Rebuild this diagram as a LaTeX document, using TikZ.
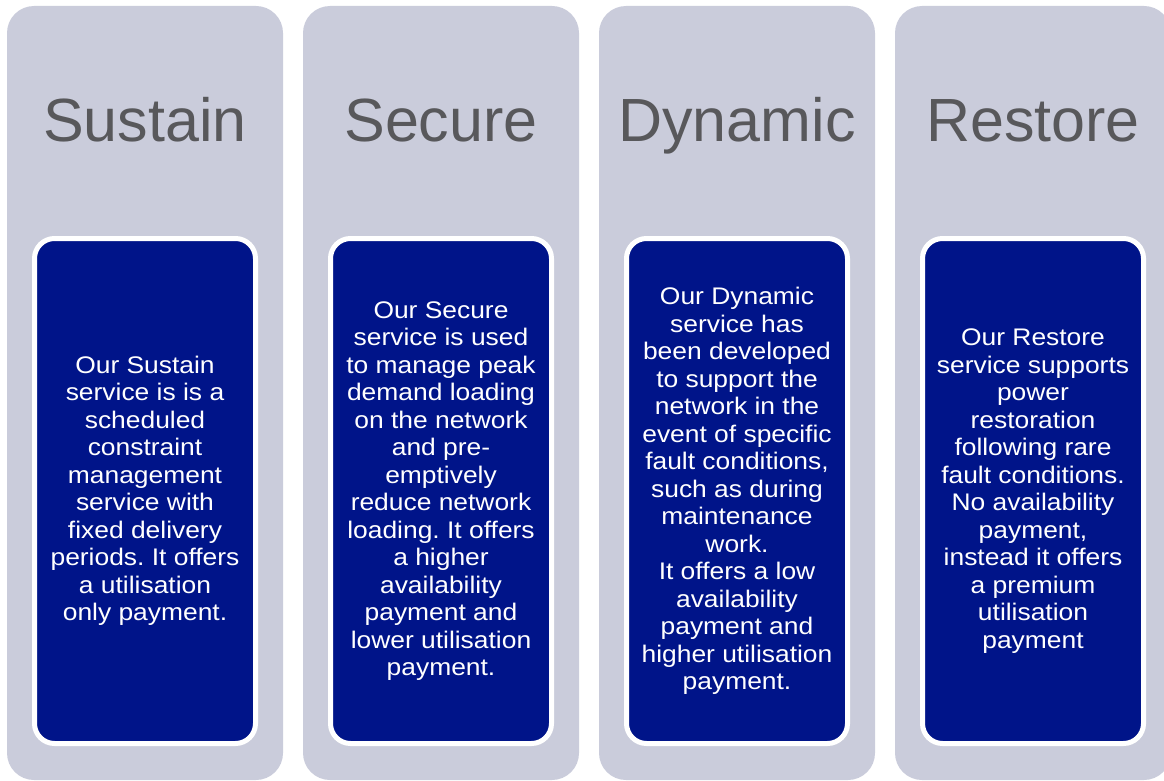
\documentclass[tikz,border=0pt]{standalone}
\usepackage{fontspec}
\setmainfont{Liberation Sans}
\newfontfamily\boxfont[FakeStretch=1.1]{Liberation Sans}
\usepackage{xcolor}
\definecolor{panelgrey}{HTML}{CACCDB}
\definecolor{titlegrey}{HTML}{58585B}
\definecolor{navy}{HTML}{001489}
\usetikzlibrary{positioning}
\frenchspacing

\tikzset{
  column/.style={fill=panelgrey, rounded corners=27pt, minimum width=276pt, minimum height=774pt, inner sep=0pt},
  heading/.style={text=titlegrey, font=\fontsize{61}{72}\selectfont, anchor=base, inner sep=0pt},
  servicebox/.style={fill=navy, draw=white, line width=5pt, rounded corners=20pt,
    minimum width=221pt, minimum height=505pt, text=white, align=center, inner sep=0pt,
    font=\boxfont\fontsize{24}{27.5}\selectfont}
}

\begin{document}
\begin{tikzpicture}[x=1pt, y=-1pt]
        \useasboundingbox (0,0) rectangle (1164,781);
        % Four service columns
        \foreach \i/\name/\body in {
          0/Sustain/{Our Sustain\\service is is a\\scheduled\\constraint\\management\\service with\\fixed delivery\\periods. It offers\\a utilisation\\only payment.},
          1/Secure/{Our Secure\\service is used\\to manage peak\\demand loading\\on the network\\and pre-\\emptively\\reduce network\\loading. It offers\\a higher\\availability\\payment and\\lower utilisation\\payment.},
          2/Dynamic/{Our Dynamic\\service has\\been developed\\to support the\\network in the\\event of specific\\fault conditions,\\such as during\\maintenance\\work.\\It offers a low\\availability\\payment and\\higher utilisation\\payment.},
          3/Restore/{Our Restore\\service supports\\power\\restoration\\following rare\\fault conditions.\\No availability\\payment,\\instead it offers\\a premium\\utilisation\\payment}} {
          \node[column] (col\i) at (145+296*\i, 393) {};
          \node[heading] (title\i) at (145+296*\i, 142) {\name};
          \node[servicebox] (desc\i) at (145+296*\i, 491) {\body};
        }
      \end{tikzpicture}
\end{document}
